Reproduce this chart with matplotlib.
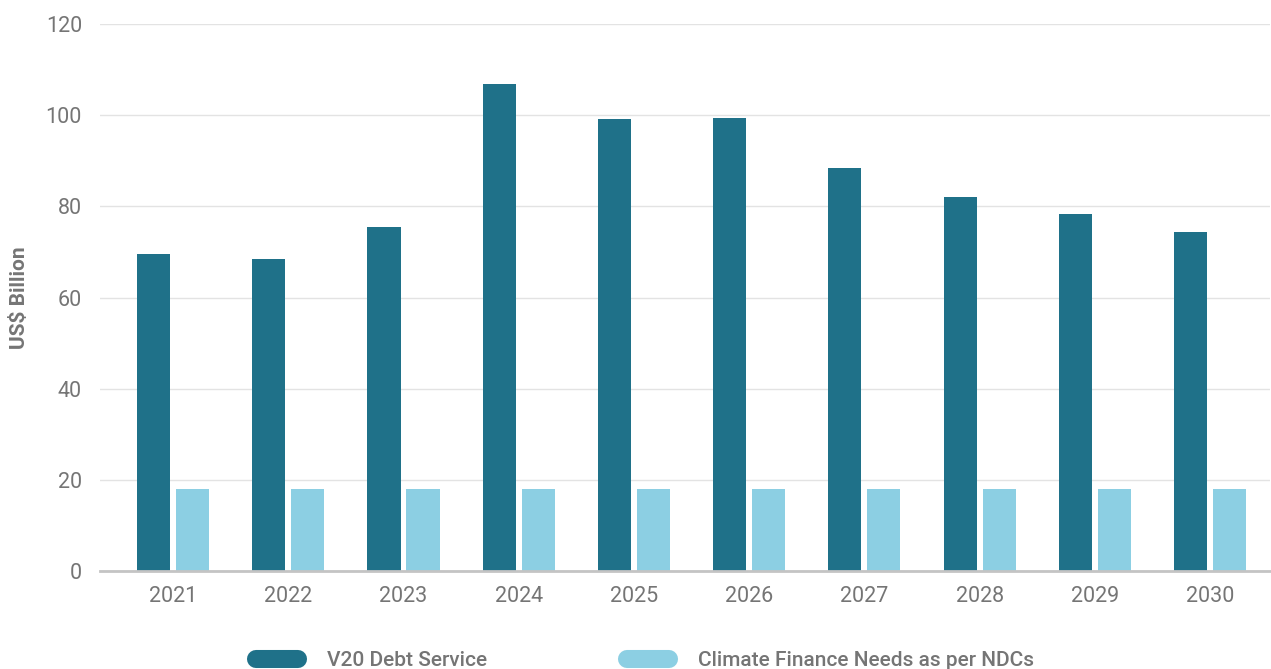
import matplotlib.pyplot as plt
import numpy as np
from matplotlib.lines import Line2D

plt.rcParams['font.family'] = ['Roboto', 'DejaVu Sans']

# Dane
years = ['2021', '2022', '2023', '2024', '2025', '2026', '2027', '2028', '2029', '2030']
debt_service = [69.5, 68.4, 75.4, 106.8, 99.2, 99.4, 88.4, 82.1, 78.3, 74.3]
climate_needs = [18.0, 18.0, 18.0, 18.0, 18.0, 18.0, 18.0, 18.0, 18.0, 18.0]

dark = '#1f7189'
light = '#8ccfe3'
text_col = '#757575'

fig = plt.figure(figsize=(12.71, 6.69), dpi=100)
ax = fig.add_axes([100 / 1271, 1 - 571 / 669, 1170 / 1271, 547 / 669])

x = np.arange(len(years))
w = 0.287
off = 0.169
ax.bar(x - off, debt_service, width=w, color=dark, zorder=3)
ax.bar(x + off, climate_needs, width=w, color=light, zorder=3)

ax.set_xlim(-0.634, 9.52)
ax.set_ylim(0, 120)
ax.set_yticks(range(0, 121, 20))
ax.set_xticks(x)
ax.set_xticklabels(years)

ax.grid(axis='y', color='#e3e3e3', linewidth=1, zorder=0)
for s in ['top', 'right', 'left']:
    ax.spines[s].set_visible(False)
ax.spines['bottom'].set_color('#c4c4c4')
ax.spines['bottom'].set_linewidth(2)
ax.spines['bottom'].set_zorder(4)
ax.tick_params(axis='both', length=0, labelsize=15.5, colors=text_col)
ax.tick_params(axis='x', pad=11)
ax.tick_params(axis='y', pad=13)

fig.text(20 / 1271, 1 - 298 / 669, 'US$ Billion', rotation=90, ha='center', va='center',
         fontsize=15, color=text_col, fontweight='bold')

handles = [
    Line2D([], [], color=dark, linewidth=13, solid_capstyle='round'),
    Line2D([], [], color=light, linewidth=13, solid_capstyle='round'),
]
leg = fig.legend(handles, ['V20 Debt Service', 'Climate Finance Needs as per NDCs'],
                 loc='center', bbox_to_anchor=(645 / 1271, 1 - 661 / 669), ncol=2,
                 frameon=False, fontsize=15, handlelength=2.0, handletextpad=1.4,
                 columnspacing=6.7)
for t in leg.get_texts():
    t.set_color(text_col)
    t.set_fontweight('medium')

plt.savefig('out.png', dpi=100)
